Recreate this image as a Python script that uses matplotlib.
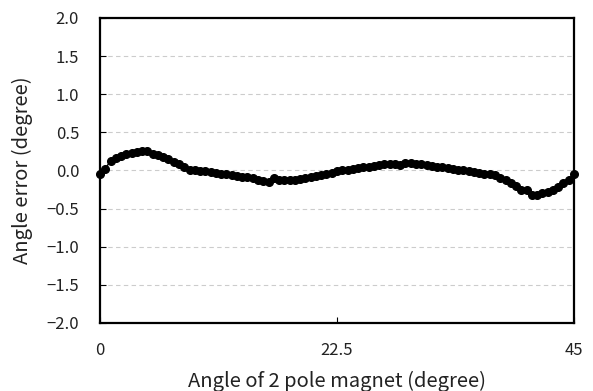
import numpy as np
import matplotlib.pyplot as plt

plt.rcParams['font.family'] = ['Noto Sans CJK JP', 'DejaVu Sans']

# magnet angle (degree), sampled every 0.5 degree
angle = [0.0, 0.5, 1.0, 1.5, 2.0, 2.5, 3.0, 3.5, 4.0, 4.5,
         5.0, 5.5, 6.0, 6.5, 7.0, 7.5, 8.0, 8.5, 9.0, 9.5,
         10.0, 10.5, 11.0, 11.5, 12.0, 12.5, 13.0, 13.5, 14.0, 14.5,
         15.0, 15.5, 16.0, 16.5, 17.0, 17.5, 18.0, 18.5, 19.0, 19.5,
         20.0, 20.5, 21.0, 21.5, 22.0, 22.5, 23.0, 23.5, 24.0, 24.5,
         25.0, 25.5, 26.0, 26.5, 27.0, 27.5, 28.0, 28.5, 29.0, 29.5,
         30.0, 30.5, 31.0, 31.5, 32.0, 32.5, 33.0, 33.5, 34.0, 34.5,
         35.0, 35.5, 36.0, 36.5, 37.0, 37.5, 38.0, 38.5, 39.0, 39.5,
         40.0, 40.5, 41.0, 41.5, 42.0, 42.5, 43.0, 43.5, 44.0, 44.5,
         45.0]

# angle error (degree)
error = [-0.05, 0.02, 0.13, 0.17, 0.19, 0.21, 0.23, 0.24, 0.25, 0.25,
         0.21, 0.20, 0.18, 0.15, 0.11, 0.08, 0.04, 0.01, 0.00, -0.01,
         -0.01, -0.02, -0.03, -0.04, -0.05, -0.06, -0.07, -0.08, -0.09, -0.10,
         -0.12, -0.14, -0.15, -0.10, -0.12, -0.12, -0.12, -0.12, -0.11, -0.10,
         -0.09, -0.07, -0.06, -0.05, -0.03, -0.01, 0.00, 0.01, 0.02, 0.03,
         0.04, 0.05, 0.06, 0.07, 0.08, 0.08, 0.08, 0.07, 0.10, 0.10,
         0.09, 0.08, 0.07, 0.06, 0.05, 0.04, 0.03, 0.02, 0.01, 0.00,
         -0.01, -0.02, -0.03, -0.04, -0.05, -0.06, -0.10, -0.12, -0.17, -0.20,
         -0.25, -0.26, -0.32, -0.32, -0.30, -0.28, -0.25, -0.22, -0.17, -0.12,
         -0.05]

yticks = [-2.0, -1.5, -1.0, -0.5, 0.0, 0.5, 1.0, 1.5, 2.0]
xticks = [0, 22.5, 45]
xticklabels = ['0', '22.5', '45']

fig = plt.figure(figsize=(5.93, 3.91), dpi=100)
ax = fig.add_axes([0.1686, 0.174, 0.7994, 0.780])

ax.plot(angle, error, color='black', marker='o', markersize=5.5, linewidth=1, zorder=3, clip_on=False)

ax.set_xlim(0, 45)
ax.set_ylim(-2.0, 2.0)
ax.set_yticks(yticks)
ax.set_yticklabels([f'{v:.1f}'.replace('-', '\u2212') for v in yticks])
ax.set_xticks(xticks)
ax.set_xticklabels(xticklabels)
ax.yaxis.grid(True, linestyle=(0, (4, 3)), color='#cccccc', linewidth=0.8)
ax.set_axisbelow(True)

for s in ax.spines.values():
    s.set_linewidth(1.6)
ax.tick_params(direction='in', length=4, width=0.8, labelsize=12, colors='black', labelcolor='#222222')
ax.tick_params(axis='x', pad=14)
ax.tick_params(axis='y', pad=15)

ax.set_xlabel('Angle of 2 pole magnet (degree)', fontsize=14.5, labelpad=8, color='#222222')
ax.set_ylabel('Angle error (degree)', fontsize=14.5, labelpad=10, color='#222222')

fig.savefig('out.png', dpi=100)
